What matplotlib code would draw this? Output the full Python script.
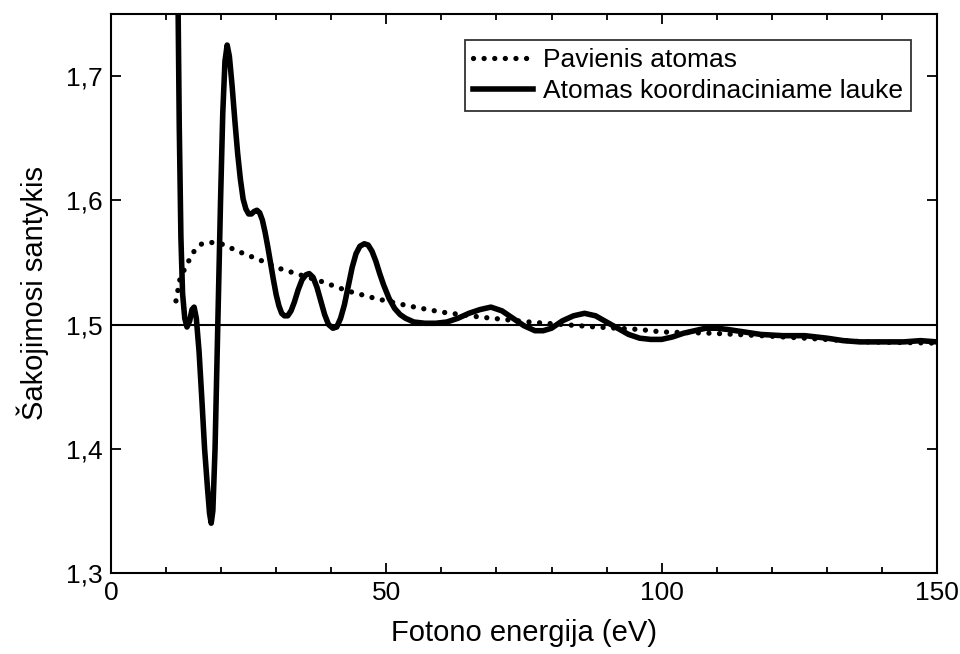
import matplotlib
matplotlib.use('Agg')
import matplotlib.pyplot as plt
from matplotlib.ticker import MultipleLocator, FuncFormatter

plt.rcParams['font.family'] = ['Liberation Sans', 'DejaVu Sans']

# atomas koordinaciniame lauke (solid)
x_coord = [12.0, 12.2, 12.4, 12.7, 13.0, 13.4, 13.8, 14.3, 14.7, 15.1, 15.5, 16.0,
           16.5, 17.0, 17.5, 17.9, 18.2, 18.5, 18.9, 19.2, 19.5, 19.9, 20.3, 20.7,
           21.1, 21.5, 22.0, 22.5, 23.0, 23.5, 24.0, 24.5, 25.0, 25.5, 26.0, 26.5,
           27.0, 27.5, 28.0, 28.5, 29.0, 29.5, 30.0, 30.5, 31.0, 31.5, 32.1, 32.7,
           33.3, 34.0, 34.7, 35.4, 36.0, 36.7, 37.4, 38.1, 38.8, 39.5, 40.3, 41.0,
           41.7, 42.4, 43.1, 43.8, 44.5, 45.2, 46.0, 46.7, 47.4, 48.1, 48.8, 49.5,
           50.5, 51.5, 52.5, 53.5, 55.0, 57.0, 59.0, 61.0, 63.0, 65.0, 67.0, 69.0,
           71.0, 73.0, 75.0, 77.0, 78.5, 80.0, 82.0, 84.0, 86.0, 88.0, 90.0, 92.0,
           94.0, 96.0, 98.0, 100.0, 102.0, 104.0, 106.0, 108.0, 110.0, 112.0, 115.0,
           118.0, 122.0, 126.0, 130.0, 133.0, 136.0, 140.0, 144.0, 147.0, 150.0]
y_coord = [1.78, 1.75, 1.66, 1.57, 1.525, 1.505, 1.498, 1.503, 1.512, 1.514, 1.505, 1.478,
           1.44, 1.40, 1.37, 1.348, 1.340, 1.35, 1.40, 1.46, 1.52, 1.60, 1.67, 1.712,
           1.725, 1.716, 1.692, 1.664, 1.638, 1.617, 1.601, 1.593, 1.589, 1.589, 1.591, 1.592,
           1.590, 1.584, 1.574, 1.562, 1.549, 1.536, 1.524, 1.515, 1.509, 1.507, 1.507, 1.511,
           1.518, 1.528, 1.536, 1.540, 1.541, 1.538, 1.530, 1.519, 1.508, 1.500, 1.497, 1.498,
           1.505, 1.516, 1.531, 1.546, 1.557, 1.563, 1.565, 1.564, 1.559, 1.551, 1.541, 1.532,
           1.521, 1.513, 1.508, 1.505, 1.502, 1.501, 1.501, 1.502, 1.505, 1.509, 1.512, 1.514,
           1.511, 1.505, 1.499, 1.495, 1.495, 1.497, 1.503, 1.507, 1.509, 1.507, 1.502, 1.497,
           1.492, 1.489, 1.488, 1.488, 1.490, 1.493, 1.495, 1.497, 1.497, 1.496, 1.494,
           1.492, 1.491, 1.491, 1.489, 1.487, 1.486, 1.486, 1.486, 1.487, 1.486]

# pavienis atomas (dotted)
x_free = [11.8, 12.5, 13.3, 14.9, 16.5, 18.3, 20.0, 23.6, 27.0, 30.7, 34.3, 38.0, 43.0,
          48.0, 54.0, 60.0, 67.0, 76.0, 88.0, 96.0, 100.0, 109.0, 118.0, 126.0, 137.0, 150.0]
y_free = [1.519, 1.536, 1.544, 1.558, 1.565, 1.566, 1.565, 1.558, 1.552, 1.545, 1.540, 1.535, 1.527,
          1.521, 1.515, 1.510, 1.506, 1.502, 1.498, 1.496, 1.494, 1.493, 1.491, 1.489, 1.486, 1.485]

ref_level = 1.5

fig = plt.figure(figsize=(9.6, 6.54), dpi=100)
ax = fig.add_axes([0.1156, 0.124, 0.8604, 0.8546])

ax.axhline(ref_level, color='black', lw=1.5)
ax.plot(x_free, y_free, color='black', lw=3.8, linestyle=(0, (0.01, 2.0)),
        dash_capstyle='round', label='Pavienis atomas')
ax.plot(x_coord, y_coord, color='black', lw=4.0, solid_joinstyle='round',
        label='Atomas koordinaciniame lauke')

ax.set_xlim(0, 150)
ax.set_ylim(1.3, 1.75)
ax.xaxis.set_major_locator(MultipleLocator(50))
ax.xaxis.set_minor_locator(MultipleLocator(10))
ax.yaxis.set_major_locator(MultipleLocator(0.1))
ax.yaxis.set_major_formatter(FuncFormatter(lambda v, p: f'{v:.1f}'.replace('.', ',')))
ax.tick_params(which='both', direction='in', top=True, right=True, labelsize=19, width=1.3)
ax.tick_params(which='major', length=7, pad=6)
ax.tick_params(which='minor', length=4)
for s in ax.spines.values():
    s.set_linewidth(1.5)

ax.set_xlabel('Fotono energija (eV)', fontsize=21, labelpad=10)
ax.set_ylabel('Šakojimosi santykis', fontsize=21, labelpad=12)

leg = ax.legend(loc='upper right', fontsize=19, frameon=True, fancybox=False,
                edgecolor='black', handlelength=2.3, handletextpad=0.35,
                borderpad=0.3, labelspacing=0.25, borderaxespad=1.0)
leg.get_frame().set_linewidth(1.3)

fig.savefig('out.png', dpi=100)
